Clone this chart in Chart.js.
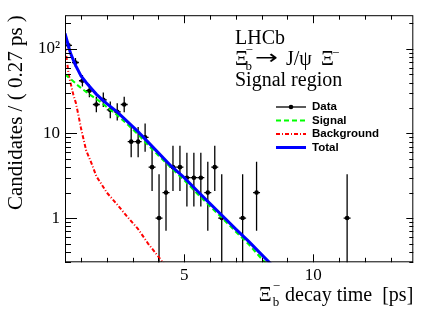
<!DOCTYPE html>
<html>
<head>
<meta charset="utf-8">
<script src="https://cdn.jsdelivr.net/npm/chart.js"></script>
<style>
    html, body { margin: 0; padding: 0; background: #fff; }
    #wrap { width: 436px; height: 313px; }
</style>
</head>
<body>
<div id="wrap"><canvas id="decayChart" width="436" height="313"></canvas></div>
<script>
// binned data (bin width 0.27 ps), only non-empty bins
const binWidth = 0.27;
const dataTime = [0.515, 0.785, 1.055, 1.325, 1.595, 1.865, 2.135, 2.405, 2.675, 2.945,
    3.215, 3.485, 3.755, 4.025, 4.295, 4.565, 4.835, 5.105, 5.375, 5.645,
    5.915, 6.185, 6.455, 7.265, 7.805, 11.315];
const dataCounts = [110, 69, 42, 32, 22, 25, 19, 18, 22, 8,
    8, 9, 4, 1, 2, 4, 4, 3, 3, 3,
    2, 4, 1, 1, 2, 1];
const errLow = [100.0, 61.2, 36.0, 26.8, 17.8, 20.5, 15.1, 14.2, 17.8, 5.23,
    5.23, 6.06, 2.09, 0.17, 0.71, 2.09, 2.09, 1.37, 1.37, 1.37,
    0.71, 2.09, 0.17, 0.17, 0.71, 0.17];
const errHigh = [121.0, 77.8, 49.0, 38.2, 27.2, 30.5, 23.9, 22.8, 27.2, 11.95,
    11.95, 13.11, 7.16, 3.30, 4.64, 7.16, 7.16, 5.92, 5.92, 5.92,
    4.64, 7.16, 3.30, 3.30, 4.64, 3.30];

// fit curves
const curveTime = [0.38, 0.45, 0.52, 0.6, 0.7, 0.8, 0.9, 1.0, 1.2, 1.4, 1.6, 1.8, 2.0,
    2.4, 2.8, 3.2, 3.6, 4.0, 4.5, 5.0, 5.5, 6.0, 6.5, 7.0, 7.5, 8.0, 8.5];
const totalValues = [152, 128, 106, 88, 74, 63, 55, 48, 40, 34, 29, 25.5, 22.5,
    18, 13.8, 10.6, 7.9, 5.9, 4.1, 3.0, 2.1, 1.48, 1.05, 0.74, 0.53, 0.37, 0.26];
const signalValues = [50, 48, 46, 44, 41.5, 39, 36.5, 34.5, 31, 28, 25.5, 23, 20.5,
    16.5, 12.8, 9.8, 7.3, 5.5, 3.9, 2.8, 1.95, 1.38, 0.98, 0.69, 0.49, 0.33, 0.23];
const backgroundValues = [105, 75, 50, 39, 29, 23, 16.5, 11.5, 6.3, 4.5, 3.1, 2.5, 2.0,
    1.45, 1.03, 0.75, 0.5, 0.35, 0.22, null, null, null, null, null, null, null, null];

const xTickValues = [5, 10];
const xTickLabels = ['5', '10'];
const yTickValues = [1, 10, 100];
const yTickLabels = ['1', '10', '10²'];

const xMin = 0.38, xMax = 13.88, yMin = 0.3, yMax = 250;
const serif = '"Liberation Serif", "Times New Roman", "DejaVu Serif", serif';
const sans = '"Liberation Sans", Arial, sans-serif';

function toPoints(values) {
    const pts = [];
    curveTime.forEach((t, i) => {
        if (values[i] !== null) pts.push({ x: t, y: values[i] });
    });
    return pts;
}

const rootStyle = {
    id: 'rootStyle',
    beforeDatasetsDraw(chart) {
        // error bars under markers and curves
        const { ctx, chartArea: a, scales: { x, y } } = chart;
        ctx.save();
        ctx.beginPath();
        ctx.rect(a.left, a.top, a.right - a.left, a.bottom - a.top);
        ctx.clip();
        ctx.strokeStyle = '#000';
        ctx.lineWidth = 1.3;
        dataTime.forEach((t, i) => {
            const px = x.getPixelForValue(t);
            const py = y.getPixelForValue(dataCounts[i]);
            ctx.beginPath();
            ctx.moveTo(px, y.getPixelForValue(errLow[i]));
            ctx.lineTo(px, y.getPixelForValue(errHigh[i]));
            ctx.moveTo(x.getPixelForValue(t - binWidth / 2), py);
            ctx.lineTo(x.getPixelForValue(t + binWidth / 2), py);
            ctx.stroke();
        });
        ctx.restore();
    },
    afterDraw(chart) {
        const { ctx, chartArea: a, scales: { x, y } } = chart;
        ctx.save();
        ctx.strokeStyle = '#000';
        ctx.lineWidth = 1;
        ctx.strokeRect(a.left + 0.5, a.top + 0.5, a.right - a.left - 1, a.bottom - a.top - 1);

        // ticks pointing inwards, ROOT style
        ctx.beginPath();
        for (let v = 1; v <= 13; v++) {
            const px = Math.round(x.getPixelForValue(v)) + 0.5;
            const len = v % 5 === 0 ? 8 : 4.5;
            ctx.moveTo(px, a.bottom); ctx.lineTo(px, a.bottom - len);
            ctx.moveTo(px, a.top); ctx.lineTo(px, a.top + len);
        }
        [0.1, 1, 10, 100].forEach(d => {
            for (let m = 1; m <= 9; m++) {
                const v = m * d;
                if (v < yMin - 1e-9 || v > yMax) continue;
                const py = Math.round(y.getPixelForValue(v)) + 0.5;
                const major = m === 1;
                ctx.moveTo(a.left, py); ctx.lineTo(a.left + (major ? 12 : 6), py);
                ctx.moveTo(a.right, py); ctx.lineTo(a.right - (major ? 7 : 4), py);
            }
        });
        ctx.stroke();

        // legend
        const ds = chart.data.datasets;
        const entries = [
            { text: 'Data', y: 107, set: ds[0] },
            { text: 'Signal', y: 120.5, set: ds[2] },
            { text: 'Background', y: 134, set: ds[3] },
            { text: 'Total', y: 147.5, set: ds[1] }
        ];
        entries.forEach(e => {
            ctx.save();
            ctx.strokeStyle = e.set.borderColor;
            ctx.lineWidth = e.set.label === 'Data' ? 1.3 : e.set.borderWidth;
            ctx.setLineDash(e.set.borderDash || []);
            ctx.beginPath();
            ctx.moveTo(276, e.y); ctx.lineTo(306, e.y);
            ctx.stroke();
            if (e.set.label === 'Data') {
                ctx.fillStyle = '#000';
                ctx.beginPath();
                ctx.arc(291, e.y, 2.3, 0, Math.PI * 2);
                ctx.fill();
            }
            ctx.restore();
            ctx.fillStyle = '#000';
            ctx.font = 'bold 11.5px ' + sans;
            ctx.textBaseline = 'middle';
            ctx.textAlign = 'left';
            ctx.fillText(e.text, 312, e.y);
        });

        // annotation
        ctx.fillStyle = '#000';
        ctx.textBaseline = 'alphabetic';
        ctx.textAlign = 'left';
        ctx.font = '20px ' + serif;
        ctx.fillText('LHCb', 235, 43.5);
        ctx.fillText('Ξ', 235, 65);
        ctx.font = '13px ' + serif;
        ctx.fillText('b', 245.5, 70);
        ctx.fillText('−', 245.5, 54);
        // long arrow as in ROOT's #rightarrow
        ctx.save();
        ctx.font = '20px "DejaVu Sans", ' + sans;
        const wArrow = ctx.measureText('→').width;
        ctx.translate(255, 65);
        ctx.scale(23 / wArrow, 1);
        ctx.fillText('→', 0, -1);
        ctx.restore();
        ctx.font = '20px ' + serif;
        ctx.fillText('J/ψ', 286, 65);
        ctx.fillText('Ξ', 321, 65);
        ctx.font = '13px ' + serif;
        ctx.fillText('−', 332, 57);
        ctx.font = '20px ' + serif;
        ctx.fillText('Signal region', 235, 86);

        // x axis title, right aligned to the frame
        ctx.font = '20px ' + serif;
        const rest = ' decay time  [ps]';
        const wXi = ctx.measureText('Ξ').width;
        const wRest = ctx.measureText(rest).width;
        ctx.font = '13px ' + serif;
        const wSub = Math.max(ctx.measureText('b').width, ctx.measureText('−').width);
        const x0 = a.right - (wXi + 1 + wSub + wRest);
        ctx.font = '20px ' + serif;
        ctx.fillText('Ξ', x0, 301);
        ctx.fillText(rest, x0 + wXi + 1 + wSub, 301);
        ctx.font = '13px ' + serif;
        ctx.fillText('b', x0 + wXi + 1, 306);
        ctx.fillText('−', x0 + wXi + 1, 290);
        ctx.restore();
    }
};

const ctx = document.getElementById('decayChart').getContext('2d');
const decayChart = new Chart(ctx, {
    type: 'scatter',
    data: {
        datasets: [
            {
                label: 'Data',
                data: dataTime.map((t, i) => ({ x: t, y: dataCounts[i] })),
                backgroundColor: '#000',
                borderColor: '#000',
                pointRadius: 2.3,
                pointBorderWidth: 0,
                showLine: false,
                order: 4
            },
            {
                label: 'Total',
                data: toPoints(totalValues),
                borderColor: '#0000ff',
                borderWidth: 3,
                pointRadius: 0,
                showLine: true,
                order: 1
            },
            {
                label: 'Signal',
                data: toPoints(signalValues),
                borderColor: '#00ff00',
                borderWidth: 2,
                borderDash: [5, 3],
                pointRadius: 0,
                showLine: true,
                order: 2
            },
            {
                label: 'Background',
                data: toPoints(backgroundValues),
                borderColor: '#ff0000',
                borderWidth: 2,
                borderDash: [4, 2, 1, 2],
                pointRadius: 0,
                showLine: true,
                order: 3
            }
        ]
    },
    options: {
        responsive: false,
        animation: false,
        devicePixelRatio: 1,
        layout: { padding: { top: 15, right: 22.7, left: 0, bottom: 0 } },
        plugins: {
            legend: { display: false },
            tooltip: { enabled: false }
        },
        scales: {
            x: {
                type: 'linear',
                min: xMin,
                max: xMax,
                afterBuildTicks: (s) => { s.ticks = xTickValues.map(v => ({ value: v })); },
                afterFit: (s) => { s.height = 50.7; },
                ticks: {
                    callback: (v) => xTickLabels[xTickValues.indexOf(v)],
                    font: { family: serif, size: 17 },
                    color: '#000',
                    padding: 3,
                    maxRotation: 0,
                    autoSkip: false
                },
                grid: { display: false, drawTicks: false },
                border: { display: false }
            },
            y: {
                type: 'logarithmic',
                min: yMin,
                max: yMax,
                afterBuildTicks: (s) => { s.ticks = yTickValues.map(v => ({ value: v })); },
                afterFit: (s) => { s.width = 65; },
                ticks: {
                    callback: (v) => yTickLabels[yTickValues.indexOf(v)],
                    font: { family: serif, size: 17 },
                    color: '#000',
                    padding: 5,
                    autoSkip: false
                },
                grid: { display: false, drawTicks: false },
                border: { display: false },
                title: {
                    display: true,
                    text: 'Candidates / ( 0.27 ps )',
                    align: 'end',
                    color: '#000',
                    font: { family: serif, size: 21 },
                    padding: { top: 4, bottom: 0 }
                }
            }
        }
    },
    plugins: [rootStyle]
});
</script>
</body>
</html>
